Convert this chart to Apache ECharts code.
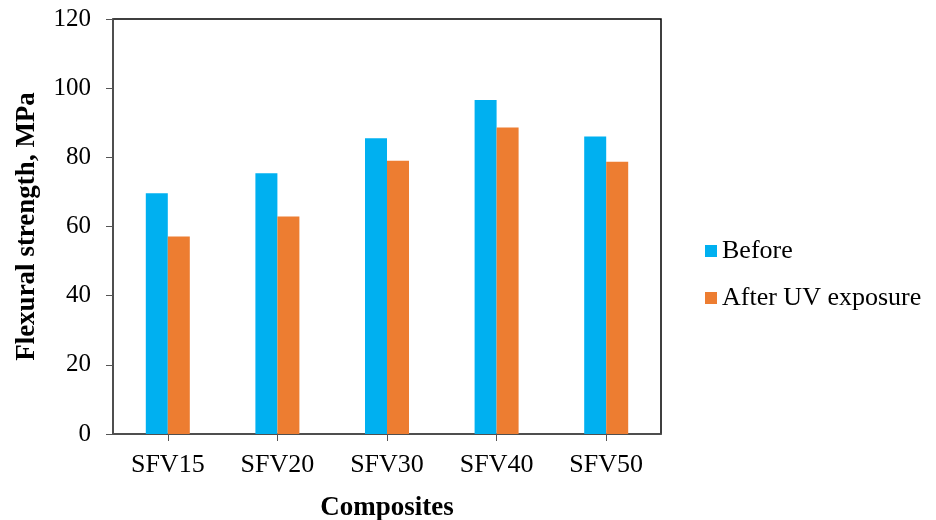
<!DOCTYPE html>
<html><head><meta charset="utf-8">
<script src="https://cdn.jsdelivr.net/npm/echarts@6/dist/echarts.min.js"></script>
<style>html,body{margin:0;padding:0;background:#fff}#c{width:936px;height:520px}</style>
</head><body><div id="c"></div>
<script>
const categories = ["SFV15", "SFV20", "SFV30", "SFV40", "SFV50"];
const before = [69.6, 75.4, 85.5, 96.6, 86.0];
const afterUV = [57.1, 62.9, 79.0, 88.6, 78.7];
const seriesNames = ["Before", "After UV exposure"];

const font = "'Liberation Serif', 'Times New Roman', serif";
const chart = echarts.init(document.getElementById('c'));
chart.setOption({
  animation: false,
  textStyle: {fontFamily: font},
  grid: {left: 113, right: 275, top: 19, bottom: 86, outerBoundsMode: 'none', containLabel: false, show: true, borderColor: '#000', borderWidth: 1.5},
  legend: {
    orient: 'vertical', left: 700, top: 233, itemGap: 21,
    itemWidth: 12, itemHeight: 12, icon: 'rect',
    textStyle: {fontFamily: font, fontSize: 26, color: '#000'},
    data: seriesNames
  },
  xAxis: {
    type: 'category', data: categories,
    name: 'Composites', nameLocation: 'middle', nameGap: 61,
    nameTextStyle: {fontFamily: font, fontSize: 27, fontWeight: 'bold', color: '#000'},
    axisLine: {lineStyle: {color: '#555', width: 1.5}},
    axisTick: {show: true, alignWithLabel: true, length: 7, lineStyle: {color: '#555'}},
    axisLabel: {fontFamily: font, fontSize: 26, color: '#000', margin: 18}
  },
  yAxis: {
    type: 'value', min: 0, max: 120, interval: 20,
    name: 'Flexural strength, MPa', nameLocation: 'middle', nameGap: 72,
    nameTextStyle: {fontFamily: font, fontSize: 27, fontWeight: 'bold', color: '#000'},
    axisLine: {show: true, lineStyle: {color: '#555', width: 1.5}},
    axisTick: {show: true, inside: false, length: 7, lineStyle: {color: '#555'}},
    splitLine: {show: false},
    axisLabel: {fontFamily: font, fontSize: 25, color: '#000', margin: 22}
  },
  series: [
    {name: seriesNames[0], type: 'bar', data: before, barWidth: 22, barGap: '0%', itemStyle: {color: '#00B0F0'}},
    {name: seriesNames[1], type: 'bar', data: afterUV, barWidth: 22, barGap: '0%', itemStyle: {color: '#ED7D31'}}
  ]
});
</script></body></html>
